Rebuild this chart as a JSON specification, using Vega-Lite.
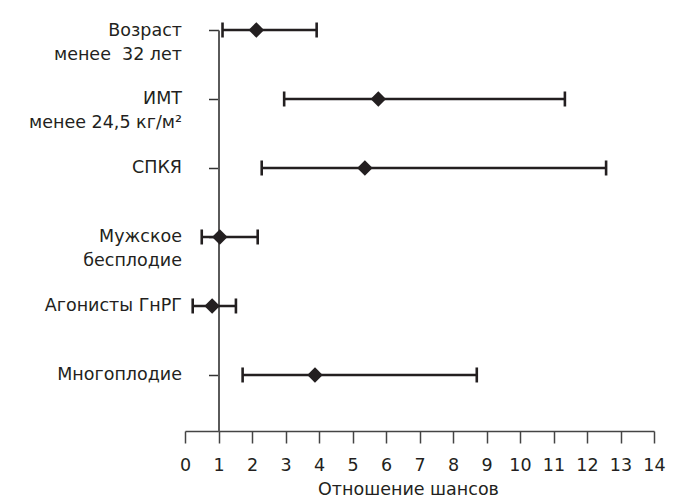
{
  "$schema": "https://vega.github.io/schema/vega-lite/v6.json",
  "width": 469,
  "height": 401,
  "autosize": {"type": "none"},
  "padding": {"left": 185, "top": 30, "right": 25, "bottom": 67},
  "background": "white",
  "config": {
    "view": {"stroke": null},
    "font": "DejaVu Sans",
    "axisX": {
      "tickCount": 30,
      "format": "d",
      "values": [0, 1, 2, 3, 4, 5, 6, 7, 8, 9, 10, 11, 12, 13, 14],
      "labelOverlap": false,
      "grid": false,
      "domainColor": "#444444",
      "domainWidth": 1.5,
      "tickColor": "#444444",
      "tickWidth": 1.5,
      "tickSize": 12,
      "labelFont": "DejaVu Sans",
      "labelFontSize": 17.5,
      "labelPadding": 13,
      "labelColor": "#231f20",
      "labelFlush": false,
      "titleFont": "DejaVu Sans",
      "titleFontSize": 17.5,
      "titleFontWeight": "normal",
      "titleColor": "#231f20",
      "titlePadding": 7,
      "titleX": 223
    }
  },
  "data": {
    "values": [
      {"factor": "Возраст|менее\u00a0 32 лет", "low": 1.12, "or": 2.13, "high": 3.93},
      {"factor": "ИМТ|менее 24,5 кг/м²", "low": 2.96, "or": 5.77, "high": 11.34},
      {"factor": "СПКЯ", "low": 2.29, "or": 5.37, "high": 12.57},
      {"factor": "Мужское|бесплодие", "low": 0.5, "or": 1.04, "high": 2.17},
      {"factor": "Агонисты ГнРГ", "low": 0.23, "or": 0.81, "high": 1.52},
      {"factor": "Многоплодие", "low": 1.72, "or": 3.88, "high": 8.71}
    ]
  },
  "encoding": {
    "y": {
      "field": "factor",
      "type": "nominal",
      "sort": null,
      "scale": {"type": "point", "padding": 0.406, "align": 0},
      "axis": {
        "title": null,
        "offset": -33.5,
        "domainColor": "#5a5a5a",
        "domainWidth": 2,
        "tickColor": "#333333",
        "tickWidth": 1.5,
        "tickSize": 10,
        "labelPadding": 27,
        "labelFont": "DejaVu Sans",
        "labelFontSize": 17.5,
        "labelColor": "#231f20",
        "labelLineHeight": 24,
        "labelAlign": "right",
        "labelBaseline": "middle",
        "labelExpr": "split(datum.label, '|')"
      }
    }
  },
  "layer": [
    {
      "mark": {"type": "rule", "color": "#231f20", "strokeWidth": 2.6},
      "encoding": {
        "x": {
          "field": "low",
          "type": "quantitative",
          "scale": {"domain": [0, 14], "nice": false, "zero": false},
          "axis": {
            "title": "Отношение шансов",
            "format": "d",
            "values": [0, 1, 2, 3, 4, 5, 6, 7, 8, 9, 10, 11, 12, 13, 14],
            "tickCount": 30
          }
        },
        "x2": {"field": "high"}
      }
    },
    {
      "mark": {"type": "tick", "orient": "vertical", "color": "#231f20", "size": 15, "thickness": 2.6, "opacity": 1},
      "encoding": {
        "x": {
          "field": "low",
          "type": "quantitative",
          "axis": {
            "title": "Отношение шансов",
            "format": "d",
            "values": [0, 1, 2, 3, 4, 5, 6, 7, 8, 9, 10, 11, 12, 13, 14],
            "tickCount": 30
          }
        }
      }
    },
    {
      "mark": {"type": "tick", "orient": "vertical", "color": "#231f20", "size": 15, "thickness": 2.6, "opacity": 1},
      "encoding": {
        "x": {
          "field": "high",
          "type": "quantitative",
          "axis": {
            "title": "Отношение шансов",
            "format": "d",
            "values": [0, 1, 2, 3, 4, 5, 6, 7, 8, 9, 10, 11, 12, 13, 14],
            "tickCount": 30
          }
        }
      }
    },
    {
      "mark": {"type": "point", "shape": "diamond", "filled": true, "size": 240, "color": "#231f20", "opacity": 1},
      "encoding": {
        "x": {
          "field": "or",
          "type": "quantitative",
          "axis": {
            "title": "Отношение шансов",
            "format": "d",
            "values": [0, 1, 2, 3, 4, 5, 6, 7, 8, 9, 10, 11, 12, 13, 14],
            "tickCount": 30
          }
        }
      }
    }
  ]
}
